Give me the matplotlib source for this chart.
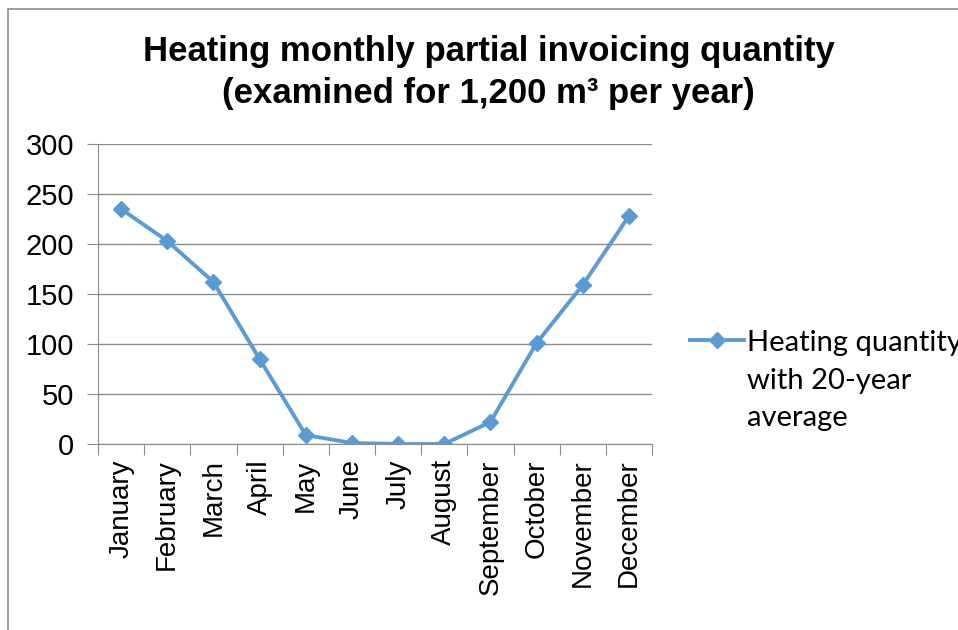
import matplotlib.pyplot as plt
from matplotlib.patches import Rectangle

months = ["January", "February", "March", "April", "May", "June", "July",
          "August", "September", "October", "November", "December"]
heating = [235, 203, 162, 85, 9, 1, 0, 0, 22, 101, 159, 228]
y_ticks = [0, 50, 100, 150, 200, 250, 300]

fig = plt.figure(figsize=(9.58, 6.3), dpi=100)
fig.patches.append(Rectangle((8 / 958, -0.1), 1.2, (630 - 9) / 630 + 0.1,
                             transform=fig.transFigure, fill=False,
                             edgecolor="#8c8c8c", linewidth=1.2))

ax = fig.add_axes([98 / 958, 1 - 444 / 630, (652 - 98) / 958, 300 / 630])
x = range(len(months))
ax.plot(x, heating, color="#5B9BD5", linewidth=2.8, marker="D", markersize=8,
        label="Heating quantity\nwith 20-year\naverage")

ax.set_xlim(-0.5, len(months) - 0.5)
ax.set_ylim(0, 300)
ax.set_yticks(y_ticks)
ax.yaxis.grid(True, color="#8c8c8c", linewidth=1)
ax.set_axisbelow(True)
for s in ["top", "right"]:
    ax.spines[s].set_visible(False)
for s in ["left", "bottom"]:
    ax.spines[s].set_color("#8c8c8c")
ax.set_xticks([i + 0.5 for i in range(-1, len(months))], minor=False)
ax.set_xticklabels([])
ax.set_xticks(list(x), minor=True)
ax.set_xticklabels(months, minor=True, rotation=90, fontsize=20,
                   family="Liberation Sans")
ax.tick_params(axis="x", which="major", length=8, color="#8c8c8c")
ax.tick_params(axis="x", which="minor", length=0, pad=11)
ax.tick_params(axis="y", length=8, color="#8c8c8c", labelsize=21, pad=9)
for lab in ax.get_yticklabels():
    lab.set_family("Liberation Sans")

fig.text(0.51, 1 - 52 / 630, "Heating monthly partial invoicing quantity",
         ha="center", va="center", fontsize=25, fontweight="bold",
         family="Liberation Sans")
fig.text(0.51, 1 - 93 / 630, "(examined for 1,200 m³ per year)",
         ha="center", va="center", fontsize=25, fontweight="bold",
         family="Liberation Sans")

leg = fig.legend(loc="upper left", bbox_to_anchor=(690 / 958, 1 - 330 / 630),
                 frameon=False, handlelength=1.85, handletextpad=0.1,
                 borderpad=0, borderaxespad=0,
                 prop={"family": "Lato", "size": 21})
for t in leg.get_texts():
    t.set_linespacing(1.55)
for col in leg._legend_handle_box.get_children():
    for row in col.get_children():
        row.align = "top"

fig.savefig("out.png", dpi=100)
